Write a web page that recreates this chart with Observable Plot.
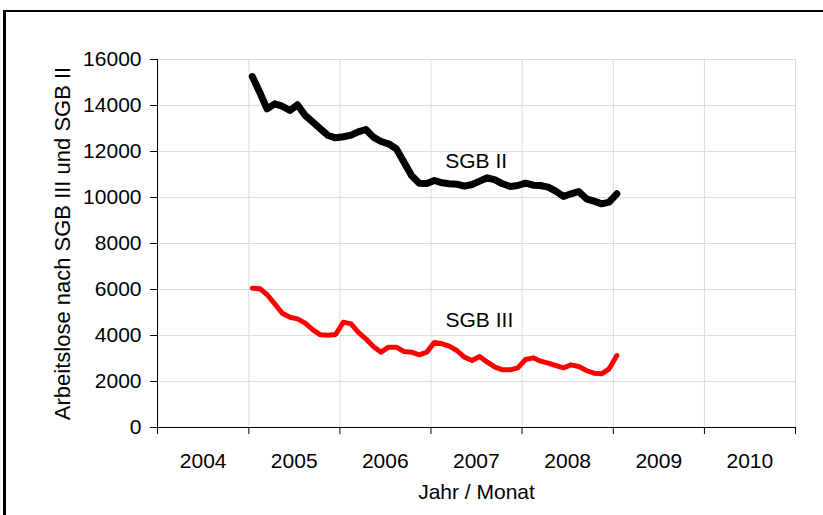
<!DOCTYPE html>
<html><head><meta charset="utf-8">
<script src="https://cdn.jsdelivr.net/npm/d3@7"></script>
<script src="https://cdn.jsdelivr.net/npm/@observablehq/plot@0.6"></script>
<style>
html,body{margin:0;padding:0;background:#fff;overflow:hidden;width:823px;height:515px;}
#chart{position:absolute;left:0;top:0;}
#frame{position:absolute;left:3px;top:10px;width:1000px;height:1000px;border-left:3px solid #000;border-top:2px solid #000;pointer-events:none;}
</style></head><body>
<div id="chart"></div><div id="frame"></div>
<script>
const months = ["2005-01","2005-02","2005-03","2005-04","2005-05","2005-06","2005-07","2005-08","2005-09","2005-10","2005-11","2005-12",
"2006-01","2006-02","2006-03","2006-04","2006-05","2006-06","2006-07","2006-08","2006-09","2006-10","2006-11","2006-12",
"2007-01","2007-02","2007-03","2007-04","2007-05","2007-06","2007-07","2007-08","2007-09","2007-10","2007-11","2007-12",
"2008-01","2008-02","2008-03","2008-04","2008-05","2008-06","2008-07","2008-08","2008-09","2008-10","2008-11","2008-12",
"2009-01"];
const sgb2 = [15260,14540,13855,14073,13970,13783,14030,13565,13275,12986,12696,12596,
12640,12710,12855,12957,12623,12435,12335,12117,11536,10957,10623,10610,
10740,10638,10595,10580,10493,10565,10710,10855,10768,10595,10478,10522,
10623,10536,10522,10450,10275,10044,10160,10260,9943,9840,9725,9797,
10160];
const sgb3 = [6057,6030,5783,5378,4970,4796,4725,4535,4246,4029,4015,4043,
4580,4507,4145,3855,3522,3275,3493,3493,3305,3275,3160,3275,
3700,3638,3537,3348,3058,2913,3087,2840,2623,2507,2507,2594,
2956,3029,2884,2797,2696,2594,2725,2652,2478,2362,2333,2551,
3130];
const yTicks = [0,2000,4000,6000,8000,10000,12000,14000,16000];
const boundaryYears = ["2004","2005","2006","2007","2008","2009","2010","2011"];
const yearLabels = ["2004","2005","2006","2007","2008","2009","2010"];
const seriesNames = ["SGB II","SGB III"];
const seriesLabelDates = ["2007-07-01","2007-07-14"];
const seriesLabelValues = [11565,4652];
const xTitle = "Jahr / Monat";
const yTitle = "Arbeitslose nach SGB III und SGB II";

const parseMonth = s => new Date(s + "-15T00:00:00Z");
const yr = s => new Date(s + "-01-01T00:00:00Z");
const midYr = s => new Date(s + "-07-02T00:00:00Z");
const data2 = months.map((m,i)=>({date: parseMonth(m), value: sgb2[i]}));
const data3 = months.map((m,i)=>({date: parseMonth(m), value: sgb3[i]}));
const labels = seriesNames.map((n,i)=>({name:n, date:new Date(seriesLabelDates[i]+"T00:00:00Z"), value:seriesLabelValues[i]}));
const font = "'Liberation Sans', Arial, sans-serif";

const chart = Plot.plot({
  width: 823, height: 515,
  marginLeft: 157, marginRight: 28, marginTop: 59, marginBottom: 88,
  style: {fontFamily: font, fontSize: "21px", background: "transparent", color: "#000"},
  x: {type: "utc", domain: [yr("2004"), yr("2011")], axis: null},
  y: {domain: [0, 16000], axis: null},
  marks: [
    Plot.gridY(yTicks.slice(1), {stroke: "#dcdcdc", strokeOpacity: 1}),
    Plot.gridX(boundaryYears.slice(1).map(yr), {stroke: "#dcdcdc", strokeOpacity: 1}),
    Plot.axisY(yTicks, {tickSize: 7, tickPadding: 9, fontSize: 21, tickFormat: d => String(d), label: null, stroke: "#000"}),
    Plot.axisX(boundaryYears.map(yr), {tickSize: 7, tickFormat: () => "", label: null, stroke: "#000"}),
    Plot.text(yearLabels, {x: midYr, frameAnchor: "bottom", dy: 40, fontSize: 21, fill: "#000"}),
    Plot.text([xTitle], {frameAnchor: "bottom", dy: 71, fontSize: 21, fill: "#000"}),
    Plot.text([yTitle], {frameAnchor: "left", textAnchor: "middle", dx: -95, rotate: -90, fontSize: 22, fill: "#000"}),
    Plot.ruleY([0], {stroke: "#000"}),
    Plot.ruleX([yr("2004")], {stroke: "#000"}),
    Plot.line(data3, {x: "date", y: "value", stroke: "#ff0000", strokeWidth: 5, strokeLinejoin: "round", strokeLinecap: "round"}),
    Plot.line(data2, {x: "date", y: "value", stroke: "#000", strokeWidth: 7, strokeLinejoin: "round", strokeLinecap: "round"}),
    Plot.text(labels, {x: "date", y: "value", text: "name", fontSize: 21, fill: "#000"})
  ]
});
document.getElementById("chart").appendChild(chart);
</script>
</body></html>
